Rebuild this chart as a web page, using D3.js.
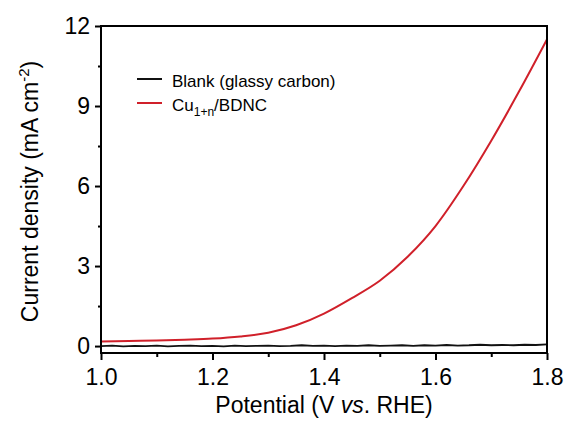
<!DOCTYPE html>
<html>
<head>
<meta charset="utf-8">
<script src="https://cdn.jsdelivr.net/npm/d3@7"></script>
<style>
  body { margin: 0; background: #fff; }
  svg { font-family: "Liberation Sans", Arial, sans-serif; }
</style>
</head>
<body>
<div id="chart"></div>
<script>
// red curve: Cu(1+n)/BDNC
var cuPotential = [1.00, 1.05, 1.10, 1.15, 1.20, 1.25, 1.30, 1.35, 1.40, 1.45, 1.50, 1.55, 1.60, 1.65, 1.70, 1.75, 1.80]
var cuCurrent   = [0.17, 0.19, 0.21, 0.24, 0.28, 0.36, 0.50, 0.78, 1.22, 1.80, 2.45, 3.35, 4.50, 6.00, 7.70, 9.55, 11.50]

// black curve: blank glassy carbon (noisy baseline)
var blankPotential = [1.00, 1.02, 1.04, 1.06, 1.08, 1.10, 1.12, 1.14, 1.16, 1.18, 1.20, 1.22, 1.24, 1.26, 1.28, 1.30, 1.32, 1.34, 1.36, 1.38, 1.40,
                      1.42, 1.44, 1.46, 1.48, 1.50, 1.52, 1.54, 1.56, 1.58, 1.60, 1.62, 1.64, 1.66, 1.68, 1.70, 1.72, 1.74, 1.76, 1.78, 1.80]
var blankCurrent   = [0.00, 0.02, -0.01, 0.01, 0.00, 0.02, -0.01, 0.01, 0.02, 0.00, 0.01, -0.01, 0.02, 0.00, 0.01, 0.02, 0.00, 0.01, 0.03, 0.01, 0.02,
                      0.00, 0.02, 0.01, 0.03, 0.01, 0.02, 0.03, 0.01, 0.03, 0.02, 0.04, 0.02, 0.03, 0.05, 0.03, 0.04, 0.03, 0.05, 0.04, 0.06]

var xTicks = [1.0, 1.2, 1.4, 1.6, 1.8]
var xMinor = [1.1, 1.3, 1.5, 1.7]
var yTicks = [0, 3, 6, 9, 12]
var yMinor = [1.5, 4.5, 7.5, 10.5]

var margin = {top: 26, right: 22, bottom: 68, left: 101},
    width = 569 - margin.left - margin.right,
    height = 421 - margin.top - margin.bottom

var svg = d3.select("#chart")
            .append("svg")
            .attr("width", 569)
            .attr("height", 421)
            .append("g")
            .attr("transform", "translate(" + margin.left + "," + margin.top + ")")

var x_scale = d3.scaleLinear().domain([1.0, 1.8]).range([0, width])
var y_scale = d3.scaleLinear().domain([-0.26, 12]).range([height, 0])

const xaxis = d3.axisBottom(x_scale).tickValues(xTicks).tickFormat(d3.format(".1f")).tickSize(7).tickPadding(9)
const xminor = d3.axisBottom(x_scale).tickValues(xMinor).tickFormat("").tickSize(4)
const yaxis = d3.axisLeft(y_scale).tickValues(yTicks).tickFormat(d3.format("d")).tickSize(6).tickPadding(5)
const yminor = d3.axisLeft(y_scale).tickValues(yMinor).tickFormat("").tickSize(3)

function styleAxis (g) {
  g.select(".domain").remove()
  g.selectAll("line").attr("stroke", "#000").attr("stroke-width", 2)
  g.selectAll("text").attr("fill", "#000").style("font-size", "23px")
}

svg.append("g").attr("transform", "translate(0," + height + ")").call(xaxis).call(styleAxis)
svg.append("g").attr("transform", "translate(0," + height + ")").call(xminor).call(styleAxis)
svg.append("g").call(yaxis).call(styleAxis)
svg.append("g").call(yminor).call(styleAxis)

// curves
const line = d3.line()
  .x(function(d) { return x_scale(d[0]) })
  .y(function(d) { return y_scale(d[1]) })

svg.append("path")
   .datum(blankPotential.map(function(v, i) { return [v, blankCurrent[i]] }))
   .attr("fill", "none").attr("stroke", "#111").attr("stroke-width", 1.8)
   .attr("d", line)

svg.append("path")
   .datum(cuPotential.map(function(v, i) { return [v, cuCurrent[i]] }))
   .attr("fill", "none").attr("stroke", "#d0202a").attr("stroke-width", 2)
   .attr("d", line.curve(d3.curveMonotoneX))

// frame, drawn on top
var frame = [[0, 0, width, 0], [width, 0, width, height], [0, height, width, height], [0, 0, 0, height]]
frame.forEach(function(f) {
  svg.append("line")
     .attr("x1", f[0]).attr("y1", f[1]).attr("x2", f[2]).attr("y2", f[3])
     .attr("stroke", "#000").attr("stroke-width", 2).attr("stroke-linecap", "square")
})

// axis titles
var xlab = svg.append("text")
   .attr("x", width / 2).attr("y", height + 60)
   .attr("text-anchor", "middle")
   .style("font-size", "23px")
xlab.append("tspan").text("Potential (V ")
xlab.append("tspan").style("font-style", "italic").text("vs")
xlab.append("tspan").text(". RHE)")

var ylab = svg.append("text")
   .attr("transform", "translate(" + (38 - margin.left) + "," + (height / 2 + 2) + ") rotate(-90)")
   .attr("text-anchor", "middle")
   .style("font-size", "23px")
ylab.append("tspan").text("Current density (mA cm")
ylab.append("tspan").attr("dy", "-9").style("font-size", "15px").text("-2")
ylab.append("tspan").attr("dy", "9").text(")")

// legend
var legend = [
  {color: "#111", y: 53},
  {color: "#d0202a", y: 77}
]
legend.forEach(function(d) {
  svg.append("line")
     .attr("x1", 36).attr("x2", 61)
     .attr("y1", d.y).attr("y2", d.y)
     .attr("stroke", d.color).attr("stroke-width", 2)
})
svg.append("text").attr("x", 71).attr("y", 61).style("font-size", "17px").text("Blank (glassy carbon)")
var cu = svg.append("text").attr("x", 71).attr("y", 85).style("font-size", "17px")
cu.append("tspan").text("Cu")
cu.append("tspan").attr("dy", "5").style("font-size", "12px").text("1+n")
cu.append("tspan").attr("dy", "-5").text("/BDNC")
</script>
</body>
</html>
